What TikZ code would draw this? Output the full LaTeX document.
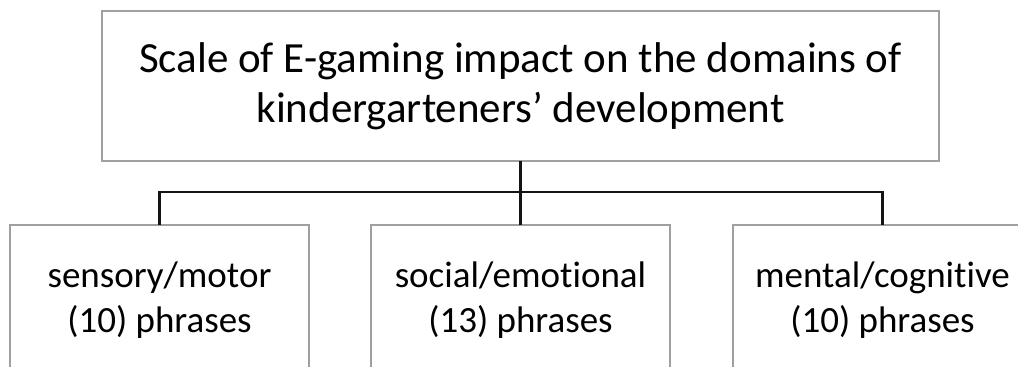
\documentclass[tikz,border=0pt]{standalone}
\usepackage{fontspec}
\setmainfont{Carlito}[RawFeature=-liga]
\begin{document}
\begin{tikzpicture}[x=1pt,y=-1pt,
  box/.style={draw=boxgray,line width=1.4pt,fill=white,inner sep=0pt,outer sep=0pt,
    minimum height=150pt,align=center,text=black},
  headbox/.style={box,minimum width=837pt,font=\fontsize{43}{50}\selectfont},
  domainbox/.style={box,minimum width=299pt,font=\fontsize{37}{45}\selectfont},
  link/.style={draw=linkblack,line width=2.6pt,line join=miter}]
\definecolor{boxgray}{HTML}{A0A0A0}
\definecolor{linkblack}{HTML}{141414}
\useasboundingbox (0,0) rectangle (1018,367);
\clip (0,0) rectangle (1018,367);
\fill[white] (0,0) rectangle (1018,367);

% connectors first, boxes drawn over their ends
\coordinate (bus) at (520.5,192);
\node[headbox] (head) at (520.5,86) {Scale of E-gaming impact on the domains of\\kindergarteners’ development};
\node[domainbox] (sens) at (159.5,300) {sensory/motor\\(10) phrases};
\node[domainbox] (soc)  at (520.5,300) {social/emotional\\(13) phrases};
\node[domainbox] (ment) at (882.5,300) {mental/cognitive\\(10) phrases};

\draw[link] (head.south) -- (soc.north);
\draw[link] (sens.north) |- (bus) -| (ment.north);
\end{tikzpicture}
\end{document}
